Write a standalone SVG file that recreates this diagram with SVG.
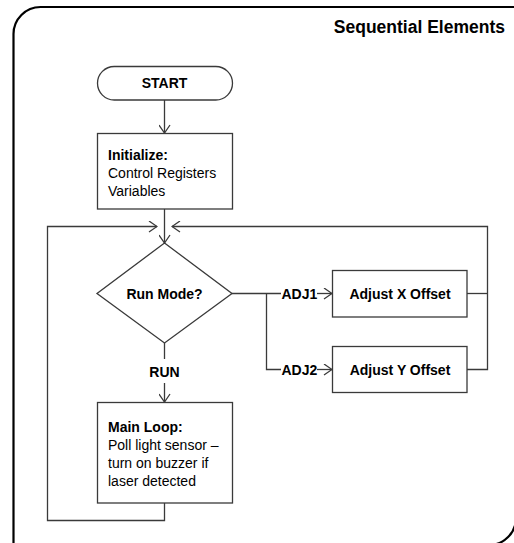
<svg xmlns="http://www.w3.org/2000/svg" width="514" height="543" viewBox="0 0 514 543">
  <style>
    .shape { fill: #ffffff; stroke: #3a3a3a; stroke-width: 1.3; }
    .conn { fill: none; stroke: #3a3a3a; stroke-width: 1.3; }
    .t { font-family: "Liberation Sans", Arial, sans-serif; font-size: 14px; fill: #000000; }
    .b { font-weight: bold; }
    .c { text-anchor: middle; }
    .title { font-size: 17.5px; text-anchor: end; }
  </style>
  <defs>
    <marker id="arrow" markerUnits="userSpaceOnUse" viewBox="0 0 10 12" markerWidth="10" markerHeight="12" refX="9" refY="6" orient="auto">
      <path d="M1,0.5 L9,6 L1,11.5" fill="none" stroke="#3a3a3a" stroke-width="1.3"/>
    </marker>
  </defs>
  <rect width="514" height="543" fill="#ffffff"/>
  <g id="frame">
    <path d="M13.5,560 V34 A27,27 0 0 1 40.5,7 H530" fill="none" stroke="#000000" stroke-width="2.2"/>
    <path d="M516,500 V518 A27,27 0 0 1 489,545" fill="none" stroke="#000000" stroke-width="2.2"/>
    <text class="t b title" x="505" y="33">Sequential Elements</text>
  </g>
  <g id="connectors">
    <path class="conn" d="M164.5,100 V133" marker-end="url(#arrow)"/>
    <path class="conn" d="M164.5,209 V243" marker-end="url(#arrow)"/>
    <path class="conn" d="M164.5,503 V520.5 H47.5 V226.5 H157" marker-end="url(#arrow)"/>
    <path class="conn" d="M467,293.5 H487.5"/>
    <path class="conn" d="M467,369.5 H487.5 V226.5 H172" marker-end="url(#arrow)"/>
    <path class="conn" d="M232,293.5 H281"/>
    <path class="conn" d="M266.5,293.5 V369.5 H281"/>
    <path class="conn" d="M317,293.5 H332" marker-end="url(#arrow)"/>
    <path class="conn" d="M317,369.5 H332" marker-end="url(#arrow)"/>
    <path class="conn" d="M164.5,343 V359"/>
    <path class="conn" d="M164.5,383 V402" marker-end="url(#arrow)"/>
    <text class="t b" x="281.5" y="298.5">ADJ1</text>
    <text class="t b" x="281.5" y="374.5">ADJ2</text>
    <text class="t b c" x="164.5" y="376.5">RUN</text>
  </g>
  <g id="start">
    <rect class="shape" x="97.5" y="66.5" width="135" height="33.5" rx="16.75" ry="16.75"/>
    <text class="t b c" x="164.5" y="88">START</text>
  </g>
  <g id="initialize">
    <rect class="shape" x="97.5" y="133.5" width="135" height="75.5"/>
    <text class="t b" x="108" y="160">Initialize:</text>
    <text class="t" x="108" y="178">Control Registers</text>
    <text class="t" x="108" y="196">Variables</text>
  </g>
  <g id="run-mode">
    <path class="shape" d="M164.5,243 L232,293.5 L164.5,343 L97,293.5 Z"/>
    <text class="t b c" x="164.5" y="298.5">Run Mode?</text>
  </g>
  <g id="adjust-x">
    <rect class="shape" x="332.5" y="270.5" width="134.5" height="46.5"/>
    <text class="t b c" x="400" y="298.5">Adjust X Offset</text>
  </g>
  <g id="adjust-y">
    <rect class="shape" x="332.5" y="346.5" width="134.5" height="46"/>
    <text class="t b c" x="400" y="374.5">Adjust Y Offset</text>
  </g>
  <g id="main-loop">
    <rect class="shape" x="97.5" y="402.5" width="135" height="100.5"/>
    <text class="t b" x="108" y="432">Main Loop:</text>
    <text class="t" x="108" y="450">Poll light sensor –</text>
    <text class="t" x="108" y="468">turn on buzzer if</text>
    <text class="t" x="108" y="486">laser detected</text>
  </g>
</svg>
